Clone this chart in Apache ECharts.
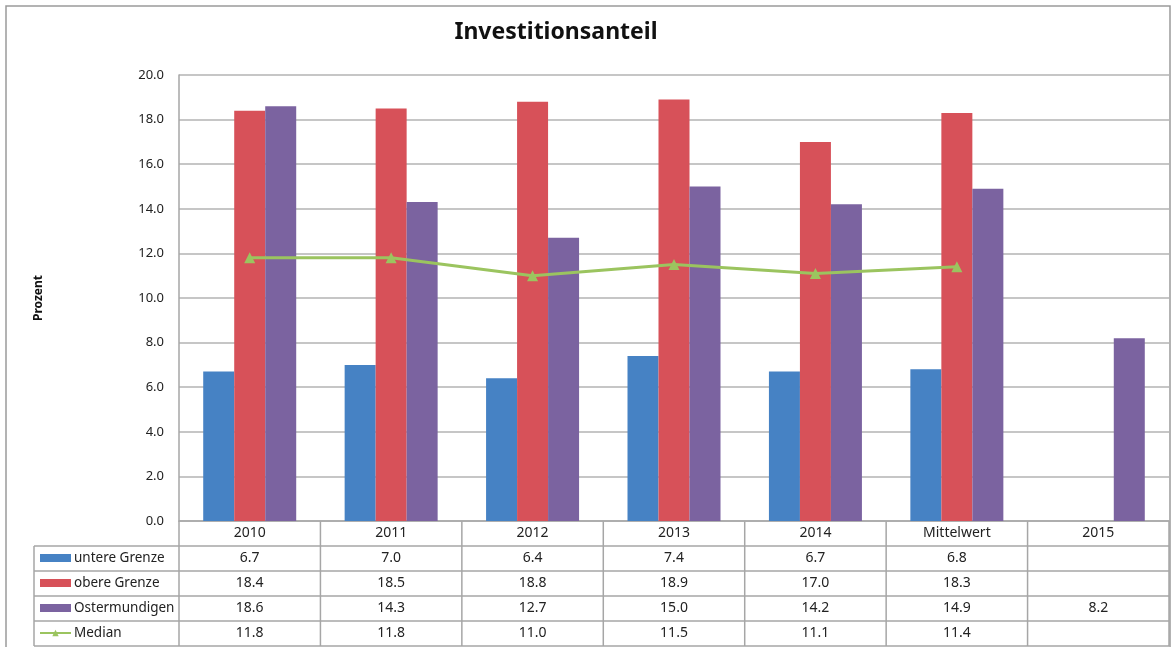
<!DOCTYPE html>
<html>
<head>
<meta charset="utf-8">
<script src="https://cdn.jsdelivr.net/npm/echarts@6/dist/echarts.min.js"></script>
<style>
html,body{margin:0;padding:0;background:#fff;}
#chart{width:1172px;height:647px;}
</style>
</head>
<body>
<div id="chart"></div>
<script>
var categories = ['2010', '2011', '2012', '2013', '2014', 'Mittelwert', '2015'];
var untereGrenze = [6.7, 7.0, 6.4, 7.4, 6.7, 6.8, null];
var obereGrenze = [18.4, 18.5, 18.8, 18.9, 17.0, 18.3, null];
var ostermundigen = [18.6, 14.3, 12.7, 15.0, 14.2, 14.9, 8.2];
var median = [11.8, 11.8, 11.0, 11.5, 11.1, 11.4, null];
var yTicks = { min: 0, max: 20, interval: 2 };

var seriesNames = ['untere Grenze', 'obere Grenze', 'Ostermundigen', 'Median'];
var seriesData = [untereGrenze, obereGrenze, ostermundigen, median];
var colors = ['#4682c4', '#d75159', '#7b63a0', '#9bc45f'];

var FONT = 'Noto Sans';
var gridLeft = 179, gridRight = 1169, gridTop = 75, gridBottom = 521, rowH = 25;
var lineColor = '#a6a6a6';

var chart = echarts.init(document.getElementById('chart'));

var xAxes = [{
  type: 'category', data: categories, gridIndex: 0, position: 'bottom',
  axisLine: { show: true, lineStyle: { color: lineColor, width: 1.5 } },
  axisTick: { show: false },
  axisLabel: { color: '#222', fontSize: 14, fontFamily: FONT, margin: 5 }
}];
seriesData.forEach(function (arr, i) {
  xAxes.push({
    type: 'category', data: categories, gridIndex: 0, position: 'bottom',
    offset: rowH * (i + 1),
    axisLine: { show: false }, axisTick: { show: false },
    axisLabel: {
      color: '#222', fontSize: 14, fontFamily: FONT, margin: 5,
      formatter: function (v, idx) { return arr[idx] == null ? '' : arr[idx].toFixed(1); }
    }
  });
});

var series = [];
for (var i = 0; i < 3; i++) {
  series.push({
    name: seriesNames[i], type: 'bar', data: seriesData[i], xAxisIndex: 0,
    barWidth: 31, barGap: '0%',
    itemStyle: { color: colors[i] }
  });
}
series.push({
  name: seriesNames[3], type: 'line', data: median, xAxisIndex: 0,
  symbol: 'triangle', symbolSize: 11,
  lineStyle: { color: colors[3], width: 3 },
  itemStyle: { color: colors[3] }
});

// table lines
var tableLines = [];
var tableLeft = 34;
for (var r = 1; r <= 5; r++) {
  var y = gridBottom + rowH * r;
  tableLines.push({ type: 'line', shape: { x1: tableLeft, y1: y, x2: gridRight, y2: y }, style: { stroke: lineColor, lineWidth: 1.5 } });
}
var catW = (gridRight - gridLeft) / categories.length;
for (var c = 0; c <= categories.length; c++) {
  var x = gridLeft + catW * c;
  tableLines.push({ type: 'line', shape: { x1: x, y1: gridBottom, x2: x, y2: gridBottom + rowH * 5 }, style: { stroke: lineColor, lineWidth: 1.5 } });
}
tableLines.push({ type: 'line', shape: { x1: tableLeft, y1: gridBottom + rowH, x2: tableLeft, y2: gridBottom + rowH * 5 }, style: { stroke: lineColor, lineWidth: 1.5 } });
tableLines.push({ type: 'rect', shape: { x: 6, y: 6, width: 1164, height: 700 }, style: { fill: 'none', stroke: '#9a9a9a', lineWidth: 1.5 }, z: -1 });

var legendData = seriesNames.map(function (n, i) {
  return i < 3 ? { name: n, icon: 'rect' } : { name: n };
});

chart.setOption({
  animation: false,
  backgroundColor: '#fff',
  title: {
    text: 'Investitionsanteil', left: 551, top: 16, textAlign: 'center',
    textStyle: { fontFamily: FONT, fontSize: 23, fontWeight: 'bold', color: '#111' }
  },
  legend: {
    orient: 'vertical', left: 39, top: gridBottom + rowH + 4, padding: 0,
    itemWidth: 31, itemHeight: 8, itemGap: 9,
    data: legendData,
    textStyle: { fontFamily: FONT, fontSize: 13.5, color: '#222', lineHeight: 16, padding: [0, 0, 0, -2] }
  },
  grid: { left: gridLeft, right: 1172 - gridRight, top: gridTop, bottom: 647 - gridBottom, containLabel: false },
  xAxis: xAxes,
  yAxis: {
    type: 'value', min: yTicks.min, max: yTicks.max, interval: yTicks.interval,
    name: 'Prozent', nameLocation: 'middle', nameRotate: 90, nameGap: 134,
    nameTextStyle: { fontFamily: FONT, fontSize: 12, fontWeight: 'bold', color: '#111' },
    axisLine: { show: true, lineStyle: { color: lineColor, width: 1.5 } },
    axisTick: { show: false },
    axisLabel: { fontFamily: FONT, fontSize: 13, color: '#222', margin: 15, formatter: function (v) { return v.toFixed(1); } },
    splitLine: { lineStyle: { color: '#b3b3b3', width: 1.5 } }
  },
  series: series,
  graphic: tableLines
});
</script>
</body>
</html>
